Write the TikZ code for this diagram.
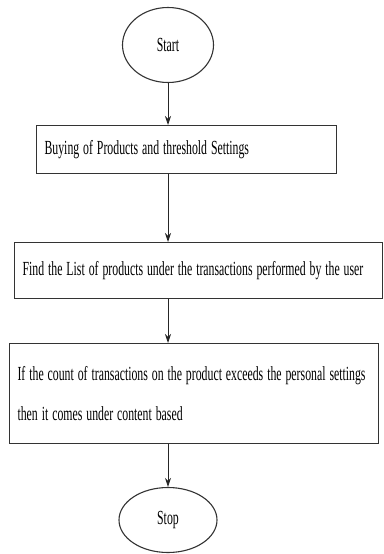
\documentclass[tikz,border=0pt]{standalone}
\usepackage{fontspec}
\setmainfont{Liberation Serif}
\usetikzlibrary{shapes.geometric,arrows.meta}
\newcommand{\slimtext}[1]{\scalebox{0.59}[1]{#1}}

\begin{document}
\begin{tikzpicture}[x=1pt, y=-1pt, font=\fontsize{20}{22}\selectfont,
    every node/.style={draw=black!80, line width=1.1pt},
    terminal/.style={ellipse, inner sep=0pt},
    stepbox/.style={rectangle, align=left, anchor=north west, inner xsep=8pt},
    flow/.style={-{Stealth[length=9pt, width=6pt]}, line width=0.8pt, black!85}]
        \useasboundingbox (0,0) rectangle (383,554);

        % Start
        \node[terminal, minimum width=91pt, minimum height=75pt] (start) at (168,45) {\slimtext{Start}};

        % Steps
        \node[stepbox, minimum width=300pt, minimum height=48pt, text width=284pt] (buy) at (36,125) {\slimtext{Buying of Products and threshold Settings}};
        \node[stepbox, minimum width=368pt, minimum height=56pt, text width=352pt] (list) at (14,242) {\slimtext{Find the List of products under the transactions performed by the user}};
        \node[stepbox, minimum width=369pt, minimum height=100pt, text width=353pt] (count) at (9,343) {\slimtext{If the count of transactions on the product exceeds the personal settings}\\[18pt]\slimtext{then it comes under content based}};

        % Stop
        \node[terminal, minimum width=98pt, minimum height=65pt] (stop) at (168,520) {\slimtext{Stop}};

        % Connect the steps
        \draw[flow] (start) -- (start |- buy.north);
        \draw[flow] (buy.south -| start) -- (list.north -| start);
        \draw[flow] (list.south -| start) -- (count.north -| start);
        \draw[flow] (count.south -| start) -- (stop);
    \end{tikzpicture}
\end{document}
